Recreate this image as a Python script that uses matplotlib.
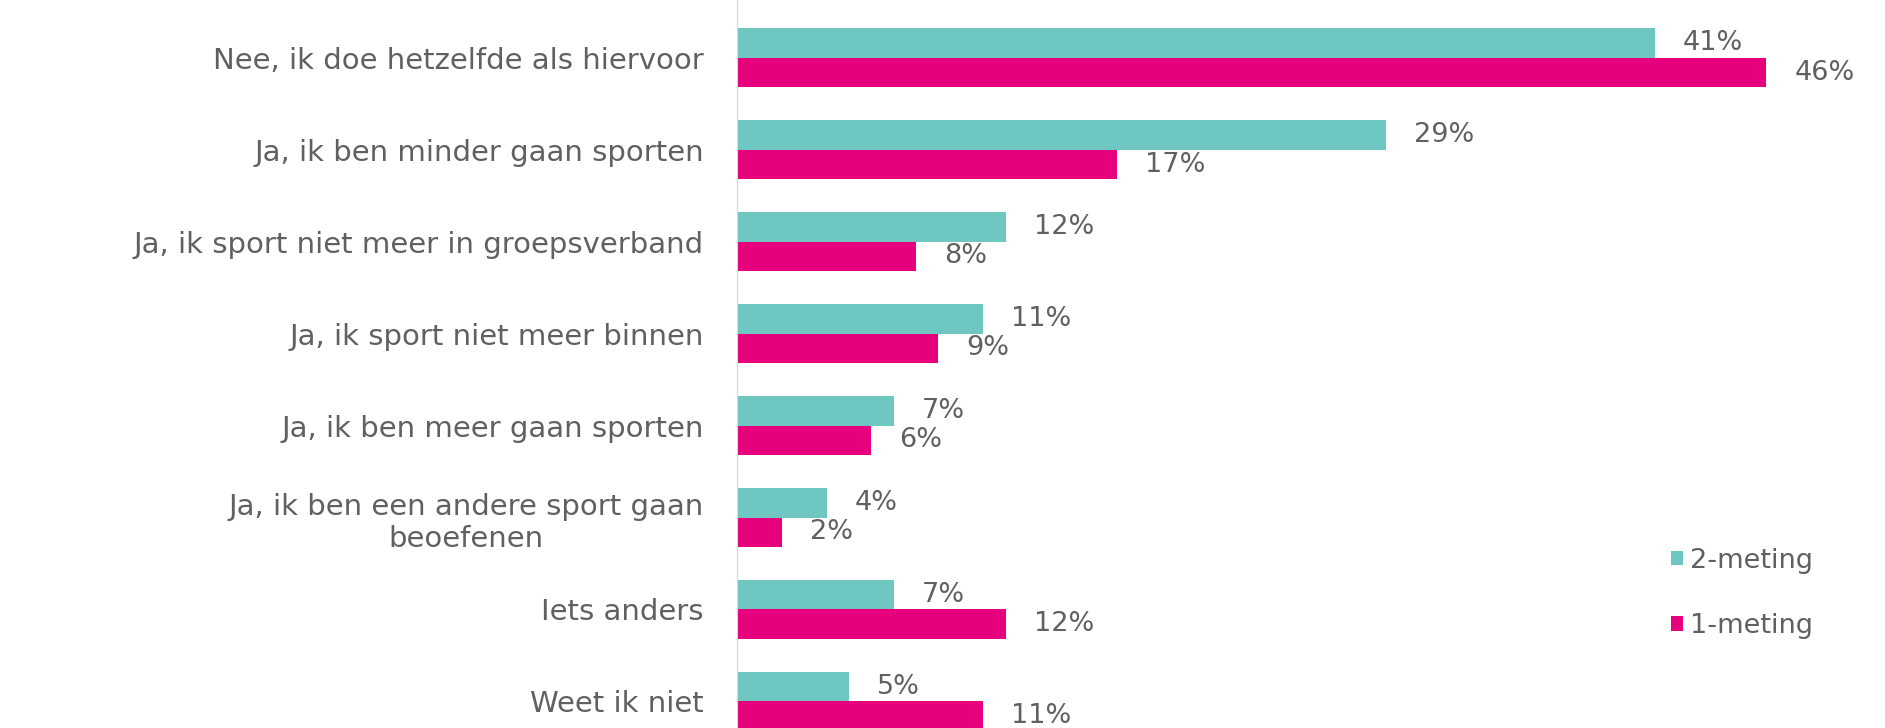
import matplotlib.pyplot as plt
import numpy as np

categories = ['Nee, ik doe hetzelfde als hiervoor', 'Ja, ik ben minder gaan sporten',
              'Ja, ik sport niet meer in groepsverband', 'Ja, ik sport niet meer binnen',
              'Ja, ik ben meer gaan sporten', 'Ja, ik ben een andere sport gaan\nbeoefenen',
              'Iets anders', 'Weet ik niet']
meting2 = [41, 29, 12, 11, 7, 4, 7, 5]
meting1 = [46, 17, 8, 9, 6, 2, 12, 11]

teal = '#6fc7c1'
pink = '#e6007e'
grey = '#606060'

plt.rcParams['font.family'] = ['DejaVu Sans']

fig = plt.figure(figsize=(18.85, 7.28), dpi=100)
ax = fig.add_axes([0.391, 0, 0.609, 1])

y = np.arange(len(categories))
h = 0.32
b2 = ax.barh(y - h / 2, meting2, height=h, color=teal, label='2-meting')
b1 = ax.barh(y + h / 2, meting1, height=h, color=pink, label='1-meting')

for bars in (b2, b1):
    for bar in bars:
        ax.annotate(f'{bar.get_width():.0f}%', (bar.get_width(), bar.get_y() + bar.get_height() / 2),
                    xytext=(28, 0), textcoords='offset pixels', ha='left', va='center',
                    fontsize=19.5, color=grey)

ax.set_xlim(0, 51.3)
ax.set_ylim(7.29, -0.63)
ax.set_yticks(y)
ax.set_yticklabels(categories, fontsize=21, color=grey, linespacing=1.2)
for lbl in ax.get_yticklabels():
    lbl.set_multialignment('center')
ax.tick_params(axis='y', length=0, pad=24)
ax.set_xticks([])
for s in ['top', 'right', 'bottom']:
    ax.spines[s].set_visible(False)
ax.spines['left'].set_color('#d9d9d9')

leg = ax.legend([b2, b1], ['2-meting', '1-meting'], loc='center left',
                bbox_to_anchor=(0.792, 0.185), frameon=False, fontsize=19.5,
                handlelength=0.45, handleheight=0.45, handletextpad=0.25, labelspacing=1.45)
for t in leg.get_texts():
    t.set_color(grey)

fig.savefig('out.png', dpi=100, facecolor='white')
